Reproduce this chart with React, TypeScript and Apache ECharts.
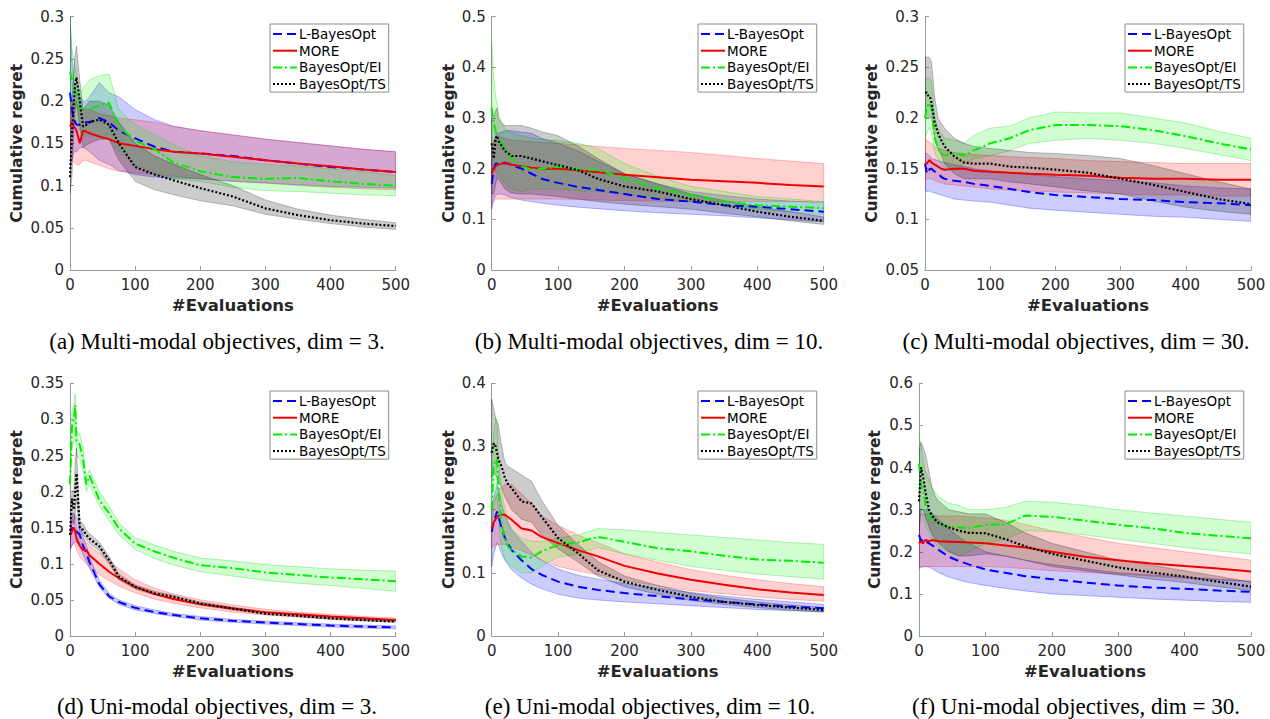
import React, { useEffect, useRef } from "react";
import * as echarts from "echarts";

// common x positions (#Evaluations)
const X = [0, 3, 6, 8, 10, 15, 20, 25, 30, 45, 60, 75, 100, 130, 160, 200, 250, 300, 350, 400, 450, 500];
const SERIES_NAMES = ["L-BayesOpt", "MORE", "BayesOpt/EI", "BayesOpt/TS"];
const X_TICKS = [0, 100, 200, 300, 400, 500];

// (a) Multi-modal, dim = 3
const aBlue = [0.21, 0.19, 0.178, 0.175, 0.172, 0.172, 0.174, 0.175, 0.175, 0.18, 0.175, 0.165, 0.156, 0.146, 0.14, 0.138, 0.135, 0.13, 0.126, 0.122, 0.119, 0.116];
const aBlueLo = [0.12, 0.13, 0.14, 0.14, 0.14, 0.145, 0.145, 0.143, 0.14, 0.13, 0.125, 0.118, 0.113, 0.11, 0.109, 0.108, 0.105, 0.103, 0.101, 0.099, 0.098, 0.097];
const aBlueHi = [0.3, 0.25, 0.22, 0.215, 0.21, 0.205, 0.2, 0.2, 0.205, 0.222, 0.21, 0.205, 0.19, 0.178, 0.17, 0.165, 0.16, 0.155, 0.151, 0.147, 0.143, 0.14];
const aRed = [0.17, 0.175, 0.17, 0.168, 0.165, 0.15, 0.165, 0.164, 0.162, 0.158, 0.155, 0.15, 0.147, 0.143, 0.14, 0.138, 0.134, 0.13, 0.126, 0.123, 0.119, 0.116];
const aRedLo = [0.13, 0.13, 0.128, 0.126, 0.125, 0.125, 0.13, 0.13, 0.128, 0.124, 0.12, 0.117, 0.115, 0.113, 0.111, 0.108, 0.105, 0.103, 0.1, 0.098, 0.096, 0.095];
const aRedHi = [0.19, 0.2, 0.2, 0.198, 0.195, 0.19, 0.19, 0.19, 0.19, 0.185, 0.183, 0.18, 0.178, 0.175, 0.17, 0.165, 0.16, 0.155, 0.151, 0.147, 0.143, 0.14];
const aGreen = [0.235, 0.225, 0.215, 0.212, 0.21, 0.19, 0.19, 0.19, 0.19, 0.195, 0.198, 0.17, 0.153, 0.143, 0.127, 0.117, 0.11, 0.108, 0.109, 0.105, 0.102, 0.1];
const aGreenLo = [0.19, 0.19, 0.18, 0.178, 0.175, 0.165, 0.16, 0.16, 0.16, 0.16, 0.155, 0.14, 0.125, 0.115, 0.108, 0.105, 0.098, 0.094, 0.093, 0.091, 0.089, 0.088];
const aGreenHi = [0.3, 0.26, 0.25, 0.24, 0.23, 0.21, 0.215, 0.22, 0.225, 0.23, 0.232, 0.19, 0.172, 0.16, 0.148, 0.135, 0.128, 0.125, 0.123, 0.12, 0.116, 0.112];
const aBlack = [0.11, 0.16, 0.2, 0.22, 0.228, 0.2, 0.17, 0.172, 0.175, 0.178, 0.172, 0.15, 0.122, 0.113, 0.106, 0.097, 0.087, 0.073, 0.065, 0.059, 0.055, 0.052];
const aBlackLo = [0.09, 0.11, 0.17, 0.19, 0.2, 0.17, 0.145, 0.148, 0.15, 0.155, 0.155, 0.13, 0.105, 0.095, 0.089, 0.082, 0.076, 0.066, 0.06, 0.055, 0.051, 0.048];
const aBlackHi = [0.14, 0.2, 0.24, 0.255, 0.265, 0.225, 0.19, 0.195, 0.2, 0.2, 0.195, 0.175, 0.15, 0.135, 0.125, 0.113, 0.1, 0.083, 0.072, 0.065, 0.06, 0.056];

// (b) Multi-modal, dim = 10
const bBlue = [0.17, 0.2, 0.21, 0.21, 0.212, 0.21, 0.212, 0.21, 0.207, 0.2, 0.19, 0.18, 0.172, 0.164, 0.158, 0.15, 0.14, 0.135, 0.128, 0.125, 0.12, 0.115];
const bBlueLo = [0.12, 0.14, 0.147, 0.15, 0.15, 0.15, 0.148, 0.145, 0.143, 0.138, 0.135, 0.132, 0.128, 0.124, 0.121, 0.117, 0.113, 0.11, 0.107, 0.103, 0.099, 0.095];
const bBlueHi = [0.22, 0.25, 0.265, 0.27, 0.27, 0.272, 0.275, 0.275, 0.275, 0.272, 0.27, 0.26, 0.25, 0.235, 0.215, 0.19, 0.17, 0.155, 0.147, 0.14, 0.136, 0.133];
const bRed = [0.19, 0.2, 0.205, 0.207, 0.208, 0.21, 0.21, 0.21, 0.208, 0.205, 0.202, 0.2, 0.2, 0.197, 0.193, 0.188, 0.183, 0.178, 0.175, 0.172, 0.168, 0.165];
const bRedLo = [0.13, 0.135, 0.14, 0.14, 0.14, 0.14, 0.14, 0.14, 0.14, 0.14, 0.14, 0.14, 0.14, 0.139, 0.138, 0.137, 0.136, 0.135, 0.135, 0.135, 0.135, 0.135];
const bRedHi = [0.24, 0.255, 0.262, 0.265, 0.265, 0.262, 0.26, 0.258, 0.257, 0.255, 0.253, 0.252, 0.25, 0.247, 0.244, 0.24, 0.236, 0.232, 0.226, 0.22, 0.215, 0.21];
const bGreen = [0.32, 0.29, 0.275, 0.265, 0.26, 0.25, 0.24, 0.23, 0.22, 0.205, 0.198, 0.2, 0.204, 0.198, 0.198, 0.181, 0.161, 0.148, 0.135, 0.128, 0.125, 0.122];
const bGreenLo = [0.22, 0.2, 0.195, 0.19, 0.19, 0.18, 0.17, 0.165, 0.16, 0.155, 0.16, 0.16, 0.16, 0.157, 0.155, 0.15, 0.142, 0.135, 0.128, 0.12, 0.115, 0.11];
const bGreenHi = [0.45, 0.38, 0.34, 0.33, 0.31, 0.29, 0.28, 0.275, 0.27, 0.265, 0.26, 0.258, 0.255, 0.25, 0.24, 0.21, 0.185, 0.165, 0.155, 0.145, 0.14, 0.135];
const bBlack = [0.25, 0.22, 0.26, 0.265, 0.255, 0.245, 0.235, 0.23, 0.225, 0.225, 0.22, 0.215, 0.207, 0.197, 0.18, 0.165, 0.155, 0.14, 0.128, 0.115, 0.105, 0.097];
const bBlackLo = [0.15, 0.15, 0.17, 0.18, 0.18, 0.17, 0.16, 0.155, 0.152, 0.15, 0.15, 0.148, 0.145, 0.14, 0.135, 0.13, 0.125, 0.12, 0.112, 0.105, 0.097, 0.09];
const bBlackHi = [0.3, 0.3, 0.315, 0.32, 0.3, 0.29, 0.285, 0.285, 0.285, 0.285, 0.28, 0.273, 0.265, 0.245, 0.22, 0.19, 0.17, 0.15, 0.137, 0.125, 0.115, 0.105];

// (c) Multi-modal, dim = 30
const cBlue = [0.155, 0.145, 0.148, 0.15, 0.15, 0.147, 0.145, 0.142, 0.14, 0.138, 0.137, 0.135, 0.133, 0.13, 0.127, 0.124, 0.122, 0.12, 0.119, 0.117, 0.116, 0.114];
const cBlueLo = [0.13, 0.127, 0.128, 0.128, 0.127, 0.126, 0.125, 0.124, 0.123, 0.12, 0.119, 0.118, 0.117, 0.114, 0.111, 0.109, 0.107, 0.105, 0.103, 0.102, 0.1, 0.098];
const cBlueHi = [0.165, 0.165, 0.163, 0.162, 0.16, 0.159, 0.158, 0.157, 0.156, 0.154, 0.152, 0.15, 0.148, 0.146, 0.144, 0.142, 0.14, 0.138, 0.136, 0.133, 0.131, 0.13];
const cRed = [0.155, 0.155, 0.158, 0.158, 0.156, 0.154, 0.152, 0.15, 0.149, 0.15, 0.15, 0.148, 0.147, 0.146, 0.145, 0.144, 0.143, 0.141, 0.14, 0.14, 0.139, 0.139];
const cRedLo = [0.14, 0.14, 0.14, 0.14, 0.14, 0.138, 0.137, 0.136, 0.135, 0.134, 0.133, 0.132, 0.13, 0.129, 0.128, 0.127, 0.126, 0.125, 0.124, 0.124, 0.123, 0.123];
const cRedHi = [0.18, 0.178, 0.177, 0.176, 0.175, 0.172, 0.17, 0.169, 0.168, 0.166, 0.165, 0.164, 0.163, 0.162, 0.161, 0.16, 0.158, 0.157, 0.156, 0.155, 0.155, 0.155];
const cGreen = [0.2, 0.21, 0.215, 0.213, 0.21, 0.18, 0.17, 0.165, 0.163, 0.165, 0.163, 0.168, 0.175, 0.18, 0.188, 0.193, 0.193, 0.192, 0.188, 0.182, 0.175, 0.169];
const cGreenLo = [0.18, 0.185, 0.19, 0.19, 0.185, 0.165, 0.16, 0.155, 0.15, 0.148, 0.155, 0.16, 0.163, 0.168, 0.175, 0.178, 0.18, 0.178, 0.175, 0.17, 0.164, 0.158];
const cGreenHi = [0.235, 0.24, 0.24, 0.238, 0.235, 0.2, 0.19, 0.185, 0.18, 0.178, 0.175, 0.183, 0.19, 0.192, 0.2, 0.206, 0.205, 0.205, 0.2, 0.195, 0.187, 0.18];
const cBlack = [0.225, 0.225, 0.22, 0.22, 0.215, 0.195, 0.185, 0.178, 0.172, 0.162, 0.156, 0.155, 0.155, 0.152, 0.151, 0.149, 0.146, 0.14, 0.134, 0.127, 0.12, 0.115];
const cBlackLo = [0.2, 0.2, 0.2, 0.2, 0.2, 0.18, 0.17, 0.163, 0.155, 0.145, 0.14, 0.14, 0.14, 0.137, 0.135, 0.132, 0.128, 0.125, 0.118, 0.112, 0.108, 0.105];
const cBlackHi = [0.26, 0.26, 0.26, 0.258, 0.255, 0.22, 0.2, 0.195, 0.19, 0.18, 0.175, 0.172, 0.17, 0.168, 0.166, 0.165, 0.163, 0.16, 0.153, 0.145, 0.137, 0.13];

// (d) Uni-modal, dim = 3
const dBlue = [0.14, 0.15, 0.145, 0.145, 0.145, 0.14, 0.125, 0.115, 0.102, 0.072, 0.055, 0.047, 0.039, 0.033, 0.029, 0.0245, 0.021, 0.0185, 0.0165, 0.0145, 0.013, 0.012];
const dBlueLo = [0.12, 0.125, 0.13, 0.13, 0.13, 0.125, 0.113, 0.104, 0.094, 0.068, 0.052, 0.044, 0.036, 0.031, 0.027, 0.022, 0.019, 0.0165, 0.0145, 0.0125, 0.011, 0.01];
const dBlueHi = [0.17, 0.17, 0.17, 0.168, 0.165, 0.155, 0.138, 0.126, 0.11, 0.077, 0.059, 0.05, 0.042, 0.036, 0.031, 0.027, 0.023, 0.0205, 0.0185, 0.0165, 0.015, 0.014];
const dRed = [0.14, 0.145, 0.15, 0.145, 0.135, 0.125, 0.119, 0.119, 0.112, 0.1, 0.089, 0.08, 0.068, 0.058, 0.051, 0.044, 0.038, 0.033, 0.03, 0.027, 0.0245, 0.022];
const dRedLo = [0.12, 0.125, 0.128, 0.125, 0.12, 0.11, 0.105, 0.1, 0.095, 0.085, 0.077, 0.069, 0.06, 0.051, 0.045, 0.039, 0.033, 0.029, 0.026, 0.024, 0.022, 0.02];
const dRedHi = [0.16, 0.165, 0.168, 0.163, 0.15, 0.14, 0.135, 0.13, 0.125, 0.115, 0.105, 0.093, 0.078, 0.066, 0.058, 0.05, 0.043, 0.037, 0.033, 0.03, 0.027, 0.025];
const dGreen = [0.21, 0.29, 0.3, 0.32, 0.27, 0.265, 0.245, 0.21, 0.222, 0.188, 0.17, 0.149, 0.128, 0.117, 0.108, 0.098, 0.094, 0.088, 0.0845, 0.081, 0.0785, 0.076];
const dGreenLo = [0.2, 0.26, 0.27, 0.29, 0.25, 0.245, 0.23, 0.2, 0.21, 0.18, 0.16, 0.14, 0.12, 0.107, 0.098, 0.089, 0.083, 0.077, 0.073, 0.07, 0.066, 0.062];
const dGreenHi = [0.23, 0.31, 0.32, 0.335, 0.285, 0.28, 0.26, 0.22, 0.23, 0.2, 0.18, 0.157, 0.136, 0.126, 0.117, 0.108, 0.104, 0.099, 0.096, 0.093, 0.091, 0.09];
const dBlack = [0.14, 0.19, 0.175, 0.2, 0.225, 0.15, 0.147, 0.14, 0.135, 0.124, 0.105, 0.082, 0.068, 0.059, 0.054, 0.045, 0.038, 0.031, 0.028, 0.0245, 0.022, 0.02];
const dBlackLo = [0.12, 0.16, 0.155, 0.17, 0.19, 0.14, 0.14, 0.134, 0.128, 0.118, 0.1, 0.078, 0.065, 0.057, 0.052, 0.043, 0.036, 0.03, 0.027, 0.023, 0.021, 0.019];
const dBlackHi = [0.16, 0.2, 0.2, 0.24, 0.26, 0.16, 0.155, 0.147, 0.142, 0.13, 0.11, 0.086, 0.071, 0.062, 0.056, 0.047, 0.04, 0.033, 0.029, 0.026, 0.023, 0.021];

// (e) Uni-modal, dim = 10
const eBlue = [0.165, 0.18, 0.19, 0.197, 0.19, 0.17, 0.155, 0.145, 0.136, 0.12, 0.106, 0.097, 0.086, 0.078, 0.073, 0.068, 0.063, 0.058, 0.054, 0.05, 0.0465, 0.044];
const eBlueLo = [0.11, 0.13, 0.14, 0.148, 0.145, 0.13, 0.12, 0.112, 0.105, 0.092, 0.082, 0.075, 0.066, 0.06, 0.057, 0.054, 0.051, 0.048, 0.045, 0.042, 0.04, 0.038];
const eBlueHi = [0.2, 0.22, 0.23, 0.24, 0.235, 0.21, 0.19, 0.178, 0.168, 0.15, 0.132, 0.12, 0.106, 0.096, 0.09, 0.083, 0.076, 0.069, 0.063, 0.058, 0.054, 0.05];
const eRed = [0.17, 0.18, 0.185, 0.188, 0.19, 0.192, 0.192, 0.188, 0.184, 0.17, 0.167, 0.157, 0.147, 0.136, 0.126, 0.111, 0.099, 0.089, 0.081, 0.074, 0.069, 0.065];
const eRedLo = [0.14, 0.142, 0.144, 0.145, 0.145, 0.145, 0.145, 0.143, 0.14, 0.135, 0.128, 0.12, 0.11, 0.103, 0.097, 0.088, 0.079, 0.072, 0.067, 0.062, 0.058, 0.055];
const eRedHi = [0.2, 0.21, 0.22, 0.225, 0.23, 0.235, 0.24, 0.24, 0.24, 0.225, 0.21, 0.19, 0.175, 0.16, 0.148, 0.13, 0.117, 0.105, 0.096, 0.089, 0.083, 0.078];
const eGreen = [0.2, 0.268, 0.28, 0.278, 0.236, 0.178, 0.152, 0.141, 0.136, 0.126, 0.124, 0.134, 0.144, 0.148, 0.157, 0.149, 0.139, 0.134, 0.127, 0.121, 0.119, 0.116];
const eGreenLo = [0.16, 0.2, 0.22, 0.22, 0.19, 0.14, 0.12, 0.115, 0.11, 0.1, 0.1, 0.11, 0.125, 0.13, 0.14, 0.13, 0.12, 0.11, 0.104, 0.098, 0.094, 0.09];
const eGreenHi = [0.24, 0.32, 0.345, 0.34, 0.28, 0.23, 0.2, 0.18, 0.17, 0.155, 0.15, 0.15, 0.155, 0.16, 0.17, 0.168, 0.164, 0.16, 0.156, 0.152, 0.148, 0.145];
const eBlack = [0.29, 0.305, 0.3, 0.29, 0.28, 0.268, 0.25, 0.24, 0.234, 0.213, 0.21, 0.189, 0.155, 0.131, 0.104, 0.086, 0.073, 0.062, 0.054, 0.049, 0.045, 0.041];
const eBlackLo = [0.25, 0.26, 0.255, 0.25, 0.245, 0.235, 0.22, 0.21, 0.2, 0.185, 0.18, 0.16, 0.138, 0.117, 0.095, 0.078, 0.066, 0.056, 0.05, 0.045, 0.041, 0.038];
const eBlackHi = [0.375, 0.36, 0.345, 0.34, 0.335, 0.3, 0.275, 0.268, 0.265, 0.255, 0.245, 0.215, 0.175, 0.145, 0.118, 0.095, 0.08, 0.068, 0.06, 0.054, 0.049, 0.045];

// (f) Uni-modal, dim = 30
const fBlue = [0.24, 0.225, 0.23, 0.228, 0.225, 0.22, 0.215, 0.21, 0.204, 0.188, 0.178, 0.17, 0.158, 0.15, 0.142, 0.135, 0.127, 0.12, 0.115, 0.112, 0.108, 0.105];
const fBlueLo = [0.16, 0.165, 0.165, 0.165, 0.165, 0.163, 0.16, 0.155, 0.15, 0.14, 0.133, 0.127, 0.12, 0.113, 0.107, 0.1, 0.096, 0.092, 0.088, 0.085, 0.082, 0.08];
const fBlueHi = [0.3, 0.3, 0.3, 0.3, 0.3, 0.295, 0.29, 0.283, 0.275, 0.255, 0.235, 0.22, 0.2, 0.19, 0.18, 0.17, 0.16, 0.15, 0.145, 0.14, 0.135, 0.13];
const fRed = [0.22, 0.225, 0.22, 0.225, 0.228, 0.225, 0.228, 0.226, 0.225, 0.224, 0.223, 0.222, 0.22, 0.215, 0.21, 0.2, 0.188, 0.18, 0.172, 0.166, 0.16, 0.153];
const fRedLo = [0.16, 0.162, 0.163, 0.164, 0.165, 0.165, 0.165, 0.165, 0.165, 0.165, 0.165, 0.165, 0.165, 0.163, 0.16, 0.155, 0.151, 0.147, 0.142, 0.137, 0.133, 0.13];
const fRedHi = [0.29, 0.29, 0.29, 0.29, 0.29, 0.288, 0.287, 0.286, 0.285, 0.285, 0.285, 0.283, 0.28, 0.275, 0.265, 0.25, 0.235, 0.22, 0.21, 0.2, 0.19, 0.18];
const fGreen = [0.41, 0.36, 0.345, 0.33, 0.31, 0.29, 0.275, 0.27, 0.265, 0.26, 0.258, 0.256, 0.264, 0.265, 0.286, 0.283, 0.274, 0.264, 0.256, 0.245, 0.238, 0.232];
const fGreenLo = [0.32, 0.3, 0.28, 0.27, 0.26, 0.245, 0.23, 0.22, 0.21, 0.2, 0.19, 0.2, 0.22, 0.23, 0.25, 0.248, 0.24, 0.23, 0.22, 0.21, 0.202, 0.195];
const fGreenHi = [0.48, 0.45, 0.42, 0.4, 0.39, 0.37, 0.35, 0.34, 0.33, 0.315, 0.31, 0.3, 0.3, 0.305, 0.32, 0.318, 0.31, 0.3, 0.292, 0.285, 0.277, 0.27];
const fBlack = [0.32, 0.4, 0.38, 0.36, 0.34, 0.3, 0.285, 0.275, 0.268, 0.258, 0.25, 0.245, 0.244, 0.23, 0.213, 0.195, 0.179, 0.163, 0.151, 0.141, 0.129, 0.117];
const fBlackLo = [0.24, 0.3, 0.3, 0.29, 0.28, 0.26, 0.24, 0.23, 0.22, 0.2, 0.19, 0.19, 0.195, 0.19, 0.18, 0.165, 0.155, 0.145, 0.135, 0.127, 0.117, 0.108];
const fBlackHi = [0.44, 0.46, 0.45, 0.44, 0.43, 0.39, 0.35, 0.33, 0.32, 0.3, 0.295, 0.29, 0.29, 0.27, 0.245, 0.22, 0.2, 0.18, 0.168, 0.155, 0.142, 0.128];

const CAPTIONS = [
  "(a) Multi-modal objectives, dim = 3.",
  "(b) Multi-modal objectives, dim = 10.",
  "(c) Multi-modal objectives, dim = 30.",
  "(d) Uni-modal objectives, dim = 3.",
  "(e) Uni-modal objectives, dim = 10.",
  "(f) Uni-modal objectives, dim = 30.",
];
const Y_RANGES = [
  [0, 0.3, 0.05],
  [0, 0.5, 0.1],
  [0.05, 0.3, 0.05],
  [0, 0.35, 0.05],
  [0, 0.4, 0.1],
  [0, 0.6, 0.1],
];

const PANEL_DATA = [
  [[aBlue, aBlueLo, aBlueHi], [aRed, aRedLo, aRedHi], [aGreen, aGreenLo, aGreenHi], [aBlack, aBlackLo, aBlackHi]],
  [[bBlue, bBlueLo, bBlueHi], [bRed, bRedLo, bRedHi], [bGreen, bGreenLo, bGreenHi], [bBlack, bBlackLo, bBlackHi]],
  [[cBlue, cBlueLo, cBlueHi], [cRed, cRedLo, cRedHi], [cGreen, cGreenLo, cGreenHi], [cBlack, cBlackLo, cBlackHi]],
  [[dBlue, dBlueLo, dBlueHi], [dRed, dRedLo, dRedHi], [dGreen, dGreenLo, dGreenHi], [dBlack, dBlackLo, dBlackHi]],
  [[eBlue, eBlueLo, eBlueHi], [eRed, eRedLo, eRedHi], [eGreen, eGreenLo, eGreenHi], [eBlack, eBlackLo, eBlackHi]],
  [[fBlue, fBlueLo, fBlueHi], [fRed, fRedLo, fRedHi], [fGreen, fGreenLo, fGreenHi], [fBlack, fBlackLo, fBlackHi]],
];

// layout (pixels)
const LAYOUT = [
  { left: 70, top: 16.7, width: 325.7, height: 253.3, nameGap: 45, legL: 270, legT: 24, capX: 217, capY: 341 },
  { left: 491.7, top: 16.7, width: 332, height: 253.3, nameGap: 35, legL: 698, legT: 24, capX: 649, capY: 341 },
  { left: 925, top: 16.7, width: 326, height: 253.3, nameGap: 45, legL: 1125, legT: 24, capX: 1076, capY: 341 },
  { left: 70, top: 383.3, width: 325.7, height: 252.7, nameGap: 45, legL: 270, legT: 391, capX: 217, capY: 706 },
  { left: 491.7, top: 383.3, width: 332, height: 252.7, nameGap: 35, legL: 698, legT: 391, capX: 650, capY: 706 },
  { left: 919, top: 383.3, width: 332, height: 252.7, nameGap: 36, legL: 1125, legT: 391, capX: 1076, capY: 706 },
];

const LINE_STYLES = [
  { color: "#0000ff", width: 2, type: [9, 5] },
  { color: "#f00000", width: 2, type: "solid" },
  { color: "#00ee00", width: 2, type: [9, 3, 2, 3] },
  { color: "#000000", width: 2.2, type: [2, 2] },
];
const BAND_FILL = ["rgba(0,0,255,0.2)", "rgba(255,0,0,0.18)", "rgba(0,255,0,0.18)", "rgba(0,0,0,0.2)"];
const BAND_STROKE = ["rgba(0,0,255,0.35)", "rgba(255,0,0,0.3)", "rgba(0,200,0,0.35)", "rgba(0,0,0,0.3)"];

const FONT = "DejaVu Sans";

function buildOption() {
  const grid: any[] = [];
  const xAxis: any[] = [];
  const yAxis: any[] = [];
  const series: any[] = [];
  const legend: any[] = [];
  const graphic: any[] = [];

  LAYOUT.forEach((L, p) => {
    grid.push({ left: L.left, top: L.top, width: L.width, height: L.height, containLabel: false });
    xAxis.push({
      type: "value",
      gridIndex: p,
      min: X_TICKS[0],
      max: X_TICKS[X_TICKS.length - 1],
      interval: 100,
      name: "#Evaluations",
      nameLocation: "middle",
      nameGap: 27,
      nameTextStyle: { fontFamily: FONT, fontWeight: "bold", fontSize: 16.5, color: "#262626" },
      axisLine: { show: true, onZero: false, lineStyle: { color: "#9a9a9a", width: 1 } },
      axisTick: { show: true, inside: true, length: 4, lineStyle: { color: "#9a9a9a" } },
      axisLabel: { color: "#262626", fontSize: 15, fontFamily: FONT, margin: 7 },
      splitLine: { show: false },
    });
    const [ymin, ymax, yint] = Y_RANGES[p];
    yAxis.push({
      type: "value",
      gridIndex: p,
      min: ymin,
      max: ymax,
      interval: yint,
      name: "Cumulative regret",
      nameLocation: "middle",
      nameGap: L.nameGap,
      nameTextStyle: { fontFamily: FONT, fontWeight: "bold", fontSize: 15.5, color: "#262626" },
      axisLine: { show: true, onZero: false, lineStyle: { color: "#9a9a9a", width: 1 } },
      axisTick: { show: true, inside: true, length: 4, lineStyle: { color: "#9a9a9a" } },
      axisLabel: {
        color: "#262626",
        fontSize: 15,
        fontFamily: FONT,
        margin: 6,
        formatter: (v: number) => String(Math.round(v * 1000) / 1000),
      },
      splitLine: { show: false },
    });

    const data = PANEL_DATA[p];
    // bands
    data.forEach((trip, k) => {
      const lo = trip[1];
      const hi = trip[2];
      series.push({
        type: "custom",
        name: "band" + p + "_" + k,
        xAxisIndex: p,
        yAxisIndex: p,
        silent: true,
        clip: true,
        z: 1,
        data: X.map((x, i) => [x, lo[i], hi[i]]),
        encode: { x: 0, y: [1, 2] },
        renderItem: (params: any, api: any) => {
          if (params.dataIndex !== 0) return null;
          const pts: number[][] = [];
          for (let i = 0; i < X.length; i++) pts.push(api.coord([X[i], hi[i]]));
          for (let i = X.length - 1; i >= 0; i--) pts.push(api.coord([X[i], lo[i]]));
          return {
            type: "polygon",
            shape: { points: pts },
            style: { fill: BAND_FILL[k], stroke: BAND_STROKE[k], lineWidth: 0.8 },
          };
        },
      });
    });
    // mean lines
    data.forEach((trip, k) => {
      const mean = trip[0];
      series.push({
        type: "line",
        name: SERIES_NAMES[k],
        xAxisIndex: p,
        yAxisIndex: p,
        symbol: "none",
        showSymbol: false,
        silent: true,
        z: 3 + k,
        lineStyle: LINE_STYLES[k],
        itemStyle: { color: LINE_STYLES[k].color },
        data: X.map((x, i) => [x, mean[i]]),
      });
    });

    legend.push({
      orient: "vertical",
      left: L.legL,
      top: L.legT,
      data: SERIES_NAMES,
      selectedMode: false,
      itemWidth: 24,
      itemHeight: 14,
      itemGap: 2.7,
      padding: [3, 3, 1, 2],
      borderColor: "#8c8c8c",
      borderWidth: 1,
      borderRadius: 0,
      backgroundColor: "#ffffff",
      itemStyle: { opacity: 0, borderWidth: 0 },
      textStyle: { fontFamily: FONT, fontSize: 13.5, color: "#000", lineHeight: 14, padding: [0, 0, 0, -3] },
    });

    graphic.push({
      type: "text",
      x: L.capX,
      y: L.capY,
      style: {
        text: CAPTIONS[p],
        fontFamily: "Liberation Serif",
        fontSize: 23,
        fill: "#000",
        align: "center",
        verticalAlign: "middle",
      },
    });
  });

  return {
    animation: false,
    backgroundColor: "#ffffff",
    textStyle: { fontFamily: FONT },
    grid,
    xAxis,
    yAxis,
    series,
    legend,
    graphic,
  };
}

export default function App() {
  const ref = useRef<HTMLDivElement>(null);
  useEffect(() => {
    if (!ref.current) return;
    const chart = echarts.init(ref.current, null, { renderer: "svg" });
    chart.setOption(buildOption() as any);
    return () => chart.dispose();
  }, []);
  return (
    <div
      ref={ref}
      style={{ position: "fixed", left: 0, top: 0, width: 1270, height: 719, background: "#fff" }}
    />
  );
}
